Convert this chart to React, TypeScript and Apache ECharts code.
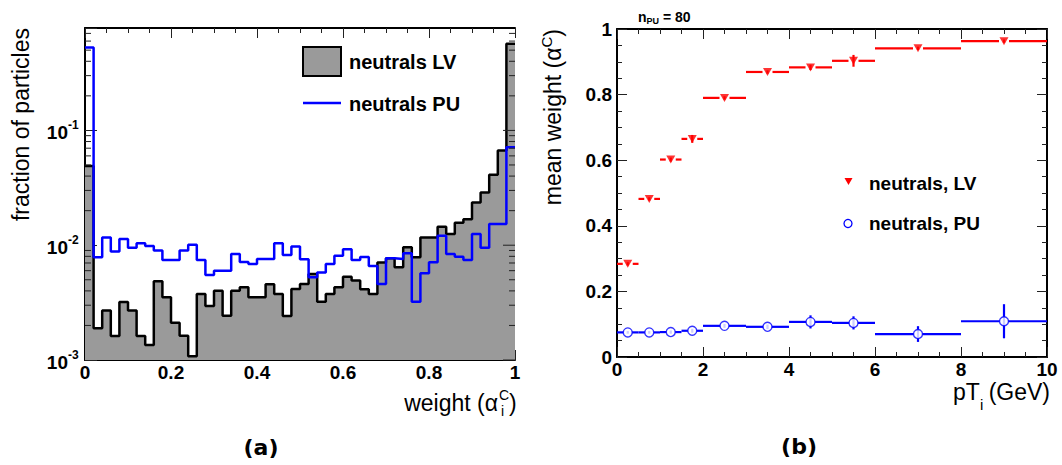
import React, { useEffect, useRef } from "react";
import * as echarts from "echarts";

// ---------- data: left panel (histograms, 50 bins of width 0.02) ----------
const histBinWidth = 0.02;
const lvFractions = [
  0.049, 0.00189, 0.0027, 0.00162, 0.0032, 0.0027, 0.00162, 0.00135, 0.00485, 0.00352,
  0.00211, 0.00163, 0.00108, 0.00376, 0.00296, 0.00402, 0.00243, 0.00402, 0.0043, 0.00352,
  0.00352, 0.00457, 0.00376, 0.00242, 0.00416, 0.0046, 0.00562, 0.00322, 0.00376, 0.0043,
  0.00532, 0.00492, 0.00413, 0.00376, 0.00706, 0.0077, 0.00643, 0.0096, 0.00786, 0.0117,
  0.0117, 0.0145, 0.0125, 0.0157, 0.0168, 0.0235, 0.0288, 0.041, 0.0668, 0.569,
];
const puFractions = [
  0.528, 0.00786, 0.0117, 0.0088, 0.01135, 0.0095, 0.0104, 0.00986, 0.00897, 0.00745,
  0.00745, 0.00897, 0.0101, 0.00745, 0.0055, 0.006, 0.006, 0.0084, 0.00715, 0.00687,
  0.0076, 0.0076, 0.0104, 0.00823, 0.00972, 0.00755, 0.00526, 0.00577, 0.00687, 0.00811,
  0.00923, 0.00745, 0.0079, 0.0066, 0.0046, 0.0077, 0.0076, 0.00852, 0.00322, 0.0057,
  0.0071, 0.0121, 0.0084, 0.00795, 0.00745, 0.0125, 0.0095, 0.0153, 0.0153, 0.0715,
];
// log-axis tick values (major: powers of ten, minor: 2..9 x 10^n)
const logMajorTicks = [0.001, 0.01, 0.1];
const logMajorExponents = ["-3", "-2", "-1"];
const logMinorTicks = [
  0.002, 0.003, 0.004, 0.005, 0.006, 0.007, 0.008, 0.009,
  0.02, 0.03, 0.04, 0.05, 0.06, 0.07, 0.08, 0.09,
  0.2, 0.3, 0.4, 0.5, 0.6, 0.7,
];

// ---------- data: right panel (mean weight vs pT) ----------
const ptLow = [0, 0.5, 1, 1.5, 2, 3, 4, 5, 6, 8];
const ptHigh = [0.5, 1, 1.5, 2, 3, 4, 5, 6, 8, 10];
const ptCenter = [0.25, 0.75, 1.25, 1.75, 2.5, 3.5, 4.5, 5.5, 7, 9];
const lvMean = [0.284, 0.482, 0.602, 0.665, 0.79, 0.869, 0.883, 0.903, 0.941, 0.963];
const lvErr = [0.005, 0.005, 0.006, 0.012, 0.005, 0.005, 0.008, 0.018, 0.005, 0.005];
const puMean = [0.075, 0.075, 0.076, 0.08, 0.095, 0.092, 0.107, 0.104, 0.07, 0.109];
const puErr = [0.004, 0.004, 0.005, 0.006, 0.006, 0.007, 0.02, 0.02, 0.024, 0.052];

const FONT = "'Liberation Sans', Arial, Helvetica, sans-serif";
const RED = "#ff0000";
const BLUE = "#0000ff";
const GRAY = "#9a9a9a";

function stepData(values: number[]) {
  const pts: number[][] = values.map((v, i) => [i * histBinWidth, v]);
  pts.push([values.length * histBinWidth, values[values.length - 1]]);
  return pts;
}

const axisLine = { show: true, onZero: false, lineStyle: { color: "#000", width: 2 } };
const majorTick = { show: true, inside: true, length: 10, lineStyle: { color: "#222", width: 1 } };
const minorTick = { show: true, splitNumber: 4, length: 5, lineStyle: { color: "#222", width: 1 } };
const noSplit = { show: false };

function decFmt(v: number) {
  if (Math.abs(v) < 1e-9) return "0";
  if (Math.abs(v - Math.round(v)) < 1e-9) return String(Math.round(v));
  return v.toFixed(1);
}

function txt(text: string, x: number, y: number, size: number, opts: any = {}) {
  const align = opts.align || "left";
  const va = opts.va || "middle";
  return {
    type: "text",
    x,
    y,
    rotation: opts.rotation || 0,
    silent: true,
    style: {
      text,
      fontFamily: opts.family || FONT,
      fontSize: size,
      fontWeight: opts.bold ? "bold" : "normal",
      fill: opts.color || "#000",
      align,
      verticalAlign: va,
      textAlign: align,
      textVerticalAlign: va,
      lineHeight: opts.lineHeight,
      rich: opts.rich,
    },
  };
}

function errorBarSeries(mean: number[], err: number[], color: string, gap: number) {
  return {
    type: "custom",
    xAxisIndex: 2,
    yAxisIndex: 2,
    z: 3,
    data: ptCenter.map((c, i) => [c, mean[i], ptLow[i], ptHigh[i], err[i]]),
    encode: { x: 0, y: 1 },
    renderItem: (params: any, api: any) => {
      const c = api.coord([api.value(0), api.value(1)]);
      const lo = api.coord([api.value(2), api.value(1)]);
      const hi = api.coord([api.value(3), api.value(1)]);
      const top = api.coord([api.value(0), api.value(1) + api.value(4)]);
      const bot = api.coord([api.value(0), api.value(1) - api.value(4)]);
      const st = { stroke: color, lineWidth: 2.2 };
      return {
        type: "group",
        children: [
          { type: "line", shape: { x1: lo[0], y1: c[1], x2: c[0] - gap, y2: c[1] }, style: st },
          { type: "line", shape: { x1: c[0] + gap, y1: c[1], x2: hi[0], y2: c[1] }, style: st },
          { type: "line", shape: { x1: c[0], y1: top[1], x2: c[0], y2: bot[1] }, style: st },
        ],
      };
    },
  };
}

export default function App() {
  const ref = useRef<HTMLDivElement>(null);
  useEffect(() => {
    document.body.style.margin = "0";
    const chart = echarts.init(ref.current!, undefined, { renderer: "svg" });

    const labelBold = (size: number, margin: number) => ({
      show: true,
      margin,
      fontFamily: FONT,
      fontWeight: "bold",
      fontSize: size,
      color: "#000",
      showMinLabel: true,
      showMaxLabel: true,
      formatter: decFmt,
    });

    const option: any = {
      animation: false,
      backgroundColor: "#fff",
      grid: [
        { left: 85, top: 28, width: 430, height: 332 },
        { left: 617, top: 29, width: 430, height: 328 },
      ],
      xAxis: [
        {
          gridIndex: 0, type: "value", min: 0, max: 1, interval: 0.2, position: "bottom",
          axisLine, axisTick: majorTick, minorTick, splitLine: noSplit, minorSplitLine: noSplit,
          axisLabel: labelBold(19, 3),
        },
        {
          gridIndex: 0, type: "value", min: 0, max: 1, interval: 0.2, position: "top",
          axisLine, axisTick: majorTick, minorTick, splitLine: noSplit, axisLabel: { show: false },
        },
        {
          gridIndex: 1, type: "value", min: 0, max: 10, interval: 2, position: "bottom",
          axisLine, axisTick: majorTick, minorTick, splitLine: noSplit, minorSplitLine: noSplit,
          axisLabel: labelBold(19, 3),
        },
        {
          gridIndex: 1, type: "value", min: 0, max: 10, interval: 2, position: "top",
          axisLine, axisTick: majorTick, minorTick, splitLine: noSplit, axisLabel: { show: false },
        },
      ],
      yAxis: [
        {
          gridIndex: 0, type: "log", logBase: 10, min: 0.001, max: 0.78, interval: 1, position: "left",
          axisLine, axisTick: { ...majorTick, length: 12 }, splitLine: noSplit,
          axisLabel: { show: false },
        },
        {
          gridIndex: 1, type: "value", min: 0, max: 1, interval: 0.2, position: "left",
          axisLine, axisTick: majorTick, minorTick, splitLine: noSplit, minorSplitLine: noSplit,
          axisLabel: labelBold(19, 5),
        },
        {
          gridIndex: 1, type: "value", min: 0, max: 1, interval: 0.2, position: "right",
          axisLine, axisTick: majorTick, minorTick, splitLine: noSplit, axisLabel: { show: false },
        },
      ],
      series: [
        {
          name: "neutrals LV", type: "line", xAxisIndex: 0, yAxisIndex: 0, step: "end",
          data: stepData(lvFractions), symbol: "none", z: 2,
          lineStyle: { color: "#000", width: 2.5 },
          areaStyle: { color: GRAY, opacity: 1, origin: "start" },
        },
        {
          name: "neutrals PU", type: "line", xAxisIndex: 0, yAxisIndex: 0, step: "end",
          data: stepData(puFractions), symbol: "none", z: 3,
          lineStyle: { color: BLUE, width: 2.5 },
        },
        {
          // ROOT-style log minor ticks (both sides) + right-side major ticks
          type: "custom", xAxisIndex: 0, yAxisIndex: 0, z: 4, silent: true,
          data: [
            ...logMajorTicks.map((v) => [0, v, 12]),
            ...logMinorTicks.map((v) => [0, v, 6]),
          ],
          encode: { x: 0, y: 1 },
          renderItem: (params: any, api: any) => {
            const cs = params.coordSys;
            const y = api.coord([0, api.value(1)])[1];
            const len = api.value(2);
            const st = { stroke: "#222", lineWidth: 1 };
            const children: any[] = [
              { type: "line", shape: { x1: cs.x + cs.width - len, y1: y, x2: cs.x + cs.width, y2: y }, style: st },
            ];
            if (len < 10) {
              children.push({ type: "line", shape: { x1: cs.x, y1: y, x2: cs.x + len, y2: y }, style: st });
            }
            return { type: "group", children };
          },
        },
        {
          // log-axis tick labels 10^n
          type: "custom", xAxisIndex: 0, yAxisIndex: 0, z: 4, silent: true, clip: false,
          data: logMajorTicks.map((v, i) => [0, v, i]),
          encode: { x: 0, y: 1 },
          renderItem: (params: any, api: any) => {
            const cs = params.coordSys;
            const y = api.coord([0, api.value(1)])[1];
            const exp = logMajorExponents[api.value(2)];
            const base = { fontFamily: FONT, fontWeight: "bold", fill: "#000", verticalAlign: "middle", textVerticalAlign: "middle" };
            return {
              type: "group",
              children: [
                { type: "text", style: { ...base, text: "10", x: cs.x - 17, y: y + 2, fontSize: 19, align: "right", textAlign: "right" } },
                { type: "text", style: { ...base, text: exp, x: cs.x - 17, y: y - 5, fontSize: 12, align: "left", textAlign: "left" } },
              ],
            };
          },
        },
        errorBarSeries(lvMean, lvErr, RED, 5),
        errorBarSeries(puMean, puErr, BLUE, 4),
        {
          name: "neutrals, LV", type: "scatter", xAxisIndex: 2, yAxisIndex: 2, z: 5,
          data: ptCenter.map((c, i) => [c, lvMean[i]]),
          symbol: "triangle", symbolRotate: 180, symbolSize: [9, 8],
          itemStyle: { color: RED },
        },
        {
          name: "neutrals, PU", type: "scatter", xAxisIndex: 2, yAxisIndex: 2, z: 5,
          data: ptCenter.map((c, i) => [c, puMean[i]]),
          symbol: "circle", symbolSize: 9,
          itemStyle: { color: "#fff", borderColor: BLUE, borderWidth: 1.4 },
        },
      ],
      graphic: [
        // left legend
        { type: "rect", shape: { x: 303, y: 47, width: 38, height: 29 }, style: { fill: GRAY, stroke: "#000", lineWidth: 2 } },
        txt("neutrals LV", 349, 62, 20, { bold: true }),
        { type: "line", shape: { x1: 303, y1: 103, x2: 341, y2: 103 }, style: { stroke: BLUE, lineWidth: 2.5 } },
        txt("neutrals PU", 349, 104, 20, { bold: true }),
        // left titles
        txt("fraction of particles", 21, 28, 23, { align: "right", rotation: Math.PI / 2 }),
        txt("weight (α", 498, 403, 23, { align: "right", lineHeight: 23 }),
        txt("C", 499, 395, 14, { lineHeight: 14 }),
        txt("i", 501, 411, 14, { lineHeight: 14 }),
        txt(")", 509, 403, 23, { lineHeight: 23 }),
        txt("(a)", 261, 447, 22, { align: "center", bold: true, family: "'DejaVu Sans', sans-serif" }),
        // right panel
        txt("{n|n}{s|PU}{n| = 80}", 638, 17, 14, {
          bold: true,
          rich: {
            n: { fontFamily: FONT, fontWeight: "bold", fontSize: 14, color: "#000", lineHeight: 16 },
            s: { fontFamily: FONT, fontWeight: "bold", fontSize: 9, color: "#000", lineHeight: 9, verticalAlign: "bottom" },
          },
        }),
        txt("{a|mean weight (α}{s|C}{a|)}", 553, 29, 23, {
          align: "right",
          rotation: Math.PI / 2,
          rich: {
            a: { fontFamily: FONT, fontSize: 23, color: "#000", lineHeight: 28 },
            s: { fontFamily: FONT, fontSize: 15, color: "#000", lineHeight: 15, verticalAlign: "top" },
          },
        }),
        txt("pT", 953, 392, 23, { lineHeight: 23 }),
        txt("i", 980, 404, 15, { lineHeight: 15 }),
        txt("(GeV)", 1050, 392, 23, { align: "right", lineHeight: 23 }),
        { type: "polygon", shape: { points: [[844.5, 178], [852.5, 178], [848.5, 185]] }, style: { fill: RED } },
        txt("neutrals, LV", 869, 183, 19, { bold: true }),
        { type: "circle", shape: { cx: 848, cy: 223.5, r: 4 }, style: { fill: "#fff", stroke: BLUE, lineWidth: 1.3 } },
        txt("neutrals, PU", 869, 223, 19, { bold: true }),
        txt("(b)", 799, 446, 22, { align: "center", bold: true, family: "'DejaVu Sans', sans-serif" }),
      ],
    };
    chart.setOption(option);
    return () => chart.dispose();
  }, []);
  return <div ref={ref} style={{ width: 1062, height: 465 }} />;
}
